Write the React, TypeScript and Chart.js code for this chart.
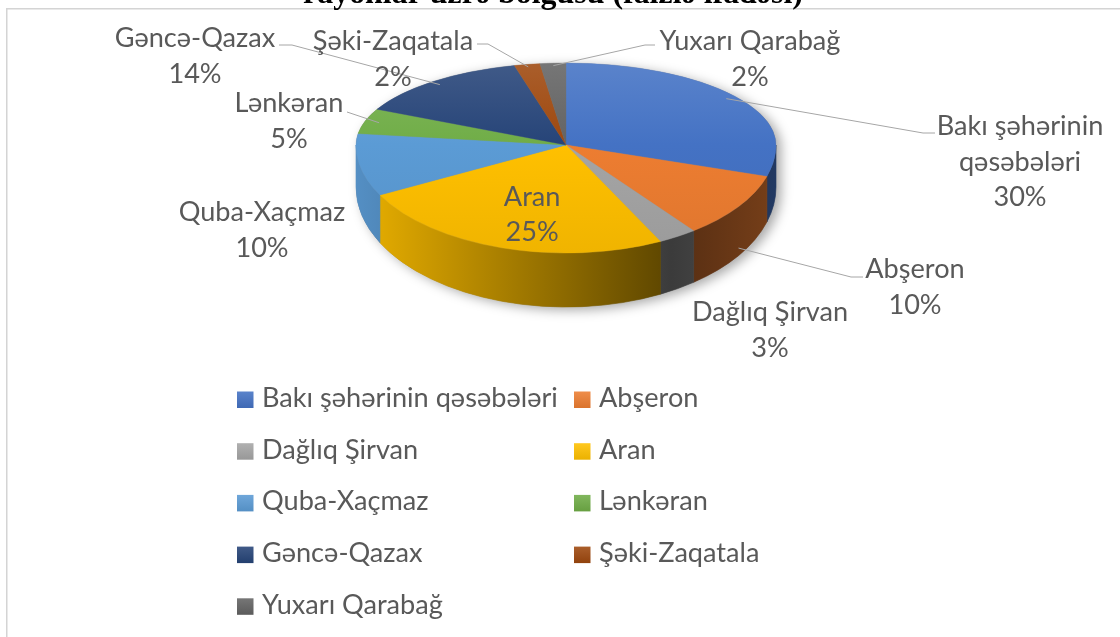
import { useEffect, useRef } from 'react';
import { Chart, registerables } from 'chart.js';
Chart.register(...registerables);

// ---------------- data ----------------
const categories = [
  'Bakı şəhərinin qəsəbələri',
  'Abşeron',
  'Dağlıq Şirvan',
  'Aran',
  'Quba-Xaçmaz',
  'Lənkəran',
  'Gəncə-Qazax',
  'Şəki-Zaqatala',
  'Yuxarı Qarabağ',
];
const shares = [30, 10, 3, 25, 10, 5, 14, 2, 2];
const labelNames = [
  ['Bakı şəhərinin', 'qəsəbələri'],
  ['Abşeron'],
  ['Dağlıq Şirvan'],
  ['Aran'],
  ['Quba-Xaçmaz'],
  ['Lənkəran'],
  ['Gəncə-Qazax'],
  ['Şəki-Zaqatala'],
  ['Yuxarı Qarabağ'],
];
const titleText = 'rayonlar üzrə bölgüsü (faizlə ifadəsi)';

// ---------------- style ----------------
const colors = ['#4472C4', '#ED7D31', '#A5A5A5', '#FFC000', '#5B9BD5', '#70AD47', '#264478', '#9E480E', '#636363'];
const W = 1120, H = 637;
const CX = 566, VY = 145, RX = 210, RYF = 82, RYN = 108, WALL_D = 42, WALL_RY = 120;
const FONT = 'Lato, "Open Sans", sans-serif';
const TEXT = '#595959';
const LINE_H = 35.5;

// label placement (layout only)
const labelLayout: any[] = [
  { x: 1020, y: 135, k: 0.95, leader: [[923, 133], [935, 133]] },
  { x: 915, y: 278, wall: 0.85, leader: [[851, 277], [863, 277]] },
  { x: 770, y: 321 },
  { inside: 0.62, dx: 6, dy: -3 },
  { x: 262, y: 221 },
  { x: 289, y: 112, k: 0.93, leader: [[347, 112]] },
  { x: 195, y: 47, k: 0.95, leader: [[292, 45], [279, 45]] },
  { x: 393, y: 50, k: 0.97, leader: [[488, 44], [477, 44]] },
  { x: 750, y: 50, k: 0.97, leader: [[645, 45], [655, 45]] },
];

function shade(hex: string, f: number) {
  const n = parseInt(hex.slice(1), 16);
  const r = (n >> 16) & 255, g = (n >> 8) & 255, b = n & 255;
  const c = (v: number) =>
    Math.max(0, Math.min(255, Math.round(f >= 1 ? v + (255 - v) * (f - 1) : v * f)));
  return `rgb(${c(r)},${c(g)},${c(b)})`;
}

const topFill = (c: any) => {
  const i = c.dataIndex ?? 0;
  const base = colors[i];
  const chart = c.chart;
  const area = chart.chartArea;
  if (!area) return base;
  const r = Math.min(area.right - area.left, area.bottom - area.top) / 2;
  const cy = (area.top + area.bottom) / 2;
  const g = chart.ctx.createLinearGradient(0, cy - r, 0, cy + r);
  g.addColorStop(0, shade(base, 1.12));
  g.addColorStop(0.5, shade(base, 1.0));
  g.addColorStop(1, shade(base, 0.94));
  return g;
};

function ptTop(theta: number, k: number) {
  const s = Math.sin(theta);
  return [CX + k * RX * Math.cos(theta), VY + k * (s < 0 ? RYF : RYN) * s];
}

let fitCache: { body: number; title: number } | null = null;
function fits(ctx: CanvasRenderingContext2D) {
  if (fitCache) return fitCache;
  ctx.save();
  ctx.font = `100px ${FONT}`;
  const wb = ctx.measureText('Bakı şəhərinin qəsəbələri').width;
  ctx.font = `bold 100px "Liberation Serif", "Times New Roman", serif`;
  const wt = ctx.measureText(titleText).width;
  ctx.restore();
  fitCache = { body: (100 * 296) / wb, title: (100 * 500) / wt };
  return fitCache;
}

const pie3d = {
  id: 'pie3d',
  beforeDatasetsDraw(chart: any) {
    const meta = chart.getDatasetMeta(0);
    const arcs = meta.data as any[];
    if (!arcs.length) return;
    const ctx: CanvasRenderingContext2D = chart.ctx;
    // shadow silhouette
    ctx.save();
    ctx.beginPath();
    ctx.ellipse(CX, VY, RX, RYF, 0, Math.PI, 2 * Math.PI);
    ctx.lineTo(CX + RX, VY + WALL_D);
    ctx.ellipse(CX, VY + WALL_D, RX, WALL_RY, 0, 0, Math.PI);
    ctx.closePath();
    ctx.shadowColor = 'rgba(0,0,0,0.35)';
    ctx.shadowBlur = 12;
    ctx.shadowOffsetX = 5;
    ctx.shadowOffsetY = 3;
    ctx.fillStyle = '#888';
    ctx.fill();
    ctx.restore();
    // walls
    arcs.forEach((el, i) => {
      const t1 = Math.max(el.startAngle, 0);
      const t2 = Math.min(el.endAngle, Math.PI);
      if (t2 <= t1) return;
      const base = colors[i];
      const g = ctx.createLinearGradient(CX - RX, 0, CX + RX, 0);
      g.addColorStop(0, shade(base, 0.92));
      g.addColorStop(0.75, shade(base, 0.36));
      g.addColorStop(1, shade(base, 0.5));
      ctx.beginPath();
      ctx.ellipse(CX, VY, RX, RYN, 0, t1, t2, false);
      ctx.ellipse(CX, VY + WALL_D, RX, WALL_RY, 0, t2, t1, true);
      ctx.closePath();
      ctx.fillStyle = g;
      ctx.fill();
      ctx.strokeStyle = g;
      ctx.lineWidth = 0.6;
      ctx.stroke();
    });
    // far half of top surface (drawn by Chart.js after this hook)
    const a0 = arcs[0];
    ctx.save();
    ctx.beginPath();
    ctx.rect(0, 0, W, VY + 1);
    ctx.clip();
    ctx.translate(CX, VY);
    ctx.scale(RX / a0.outerRadius, RYF / a0.outerRadius);
    ctx.translate(-a0.x, -a0.y);
  },
  afterDatasetsDraw(chart: any) {
    const meta = chart.getDatasetMeta(0);
    const arcs = meta.data as any[];
    if (!arcs.length) return;
    const ctx: CanvasRenderingContext2D = chart.ctx;
    ctx.restore();
    const a0 = arcs[0];
    ctx.save();
    ctx.beginPath();
    ctx.rect(0, VY, W, H - VY);
    ctx.clip();
    ctx.translate(CX, VY);
    ctx.scale(RX / a0.outerRadius, RYN / a0.outerRadius);
    ctx.translate(-a0.x, -a0.y);
    arcs.forEach((el) => el.draw(ctx));
    ctx.restore();
  },
  afterDraw(chart: any) {
    const ctx: CanvasRenderingContext2D = chart.ctx;
    const meta = chart.getDatasetMeta(0);
    const arcs = meta.data as any[];
    const f = fits(ctx);
    ctx.save();
    // frame
    ctx.strokeStyle = '#d4d4d4';
    ctx.lineWidth = 1.5;
    ctx.strokeRect(6.75, 8.75, W + 100, H + 100);
    // title (cut off at top)
    ctx.fillStyle = '#000';
    ctx.font = `bold ${f.title}px "Liberation Serif", "Times New Roman", serif`;
    ctx.textAlign = 'center';
    ctx.textBaseline = 'alphabetic';
    ctx.fillText(titleText, 553, 3);

    const sum = shares.reduce((a, b) => a + b, 0);
    ctx.font = `${f.body}px ${FONT}`;
    // data labels
    arcs.forEach((el, i) => {
      const L = labelLayout[i];
      const mid = (el.startAngle + el.endAngle) / 2;
      const lines = [...labelNames[i], Math.round((shares[i] / sum) * 100) + '%'];
      let x = L.x, y = L.y;
      if (L.inside) {
        const p = ptTop(mid, L.inside);
        x = p[0] + (L.dx || 0);
        y = p[1] + (L.dy || 0);
      }
      if (L.leader) {
        let anchor: number[];
        if (L.wall !== undefined) {
          const s = Math.sin(mid);
          const top = VY + RYN * s;
          const bot = VY + WALL_D + WALL_RY * s;
          anchor = [CX + RX * Math.cos(mid), top + L.wall * (bot - top)];
        } else {
          anchor = ptTop(mid, L.k);
        }
        ctx.strokeStyle = '#a6a6a6';
        ctx.lineWidth = 1;
        ctx.beginPath();
        ctx.moveTo(anchor[0], anchor[1]);
        L.leader.forEach((p: number[]) => ctx.lineTo(p[0], p[1]));
        ctx.stroke();
      }
      ctx.fillStyle = TEXT;
      ctx.textAlign = 'center';
      lines.forEach((t, j) => ctx.fillText(t, x, y + j * LINE_H));
    });

    // legend
    ctx.textAlign = 'left';
    categories.forEach((name, i) => {
      const row = Math.floor(i / 2), col = i % 2;
      const bx = col === 0 ? 237 : 574;
      const tx = col === 0 ? 262 : 599;
      const by = 407 + row * 51.7;
      const g = ctx.createLinearGradient(0, by - 15.5, 0, by + 1);
      g.addColorStop(0, shade(colors[i], 1.12));
      g.addColorStop(1, shade(colors[i], 0.92));
      ctx.fillStyle = g;
      ctx.fillRect(bx, by - 15.5, 16.5, 16.5);
      ctx.fillStyle = TEXT;
      ctx.fillText(name, tx, by);
    });
    ctx.restore();
  },
};

export default function App() {
  const ref = useRef<HTMLCanvasElement>(null);
  useEffect(() => {
    const chart = new Chart(ref.current as HTMLCanvasElement, {
      type: 'pie',
      data: {
        labels: categories,
        datasets: [
          {
            data: shares,
            backgroundColor: topFill as any,
            borderColor: topFill as any,
            borderWidth: 0.8,
          },
        ],
      },
      options: {
        responsive: false,
        maintainAspectRatio: false,
        animation: false,
        events: [],
        layout: { padding: 0 },
        plugins: {
          legend: { display: false },
          title: { display: false },
          tooltip: { enabled: false },
        },
      },
      plugins: [pie3d],
    });
    return () => chart.destroy();
  }, []);
  return (
    <div style={{ position: 'fixed', left: 0, top: 0, width: W, height: H, background: '#fff' }}>
      <canvas ref={ref} width={W} height={H} style={{ display: 'block', width: W, height: H }} />
    </div>
  );
}
